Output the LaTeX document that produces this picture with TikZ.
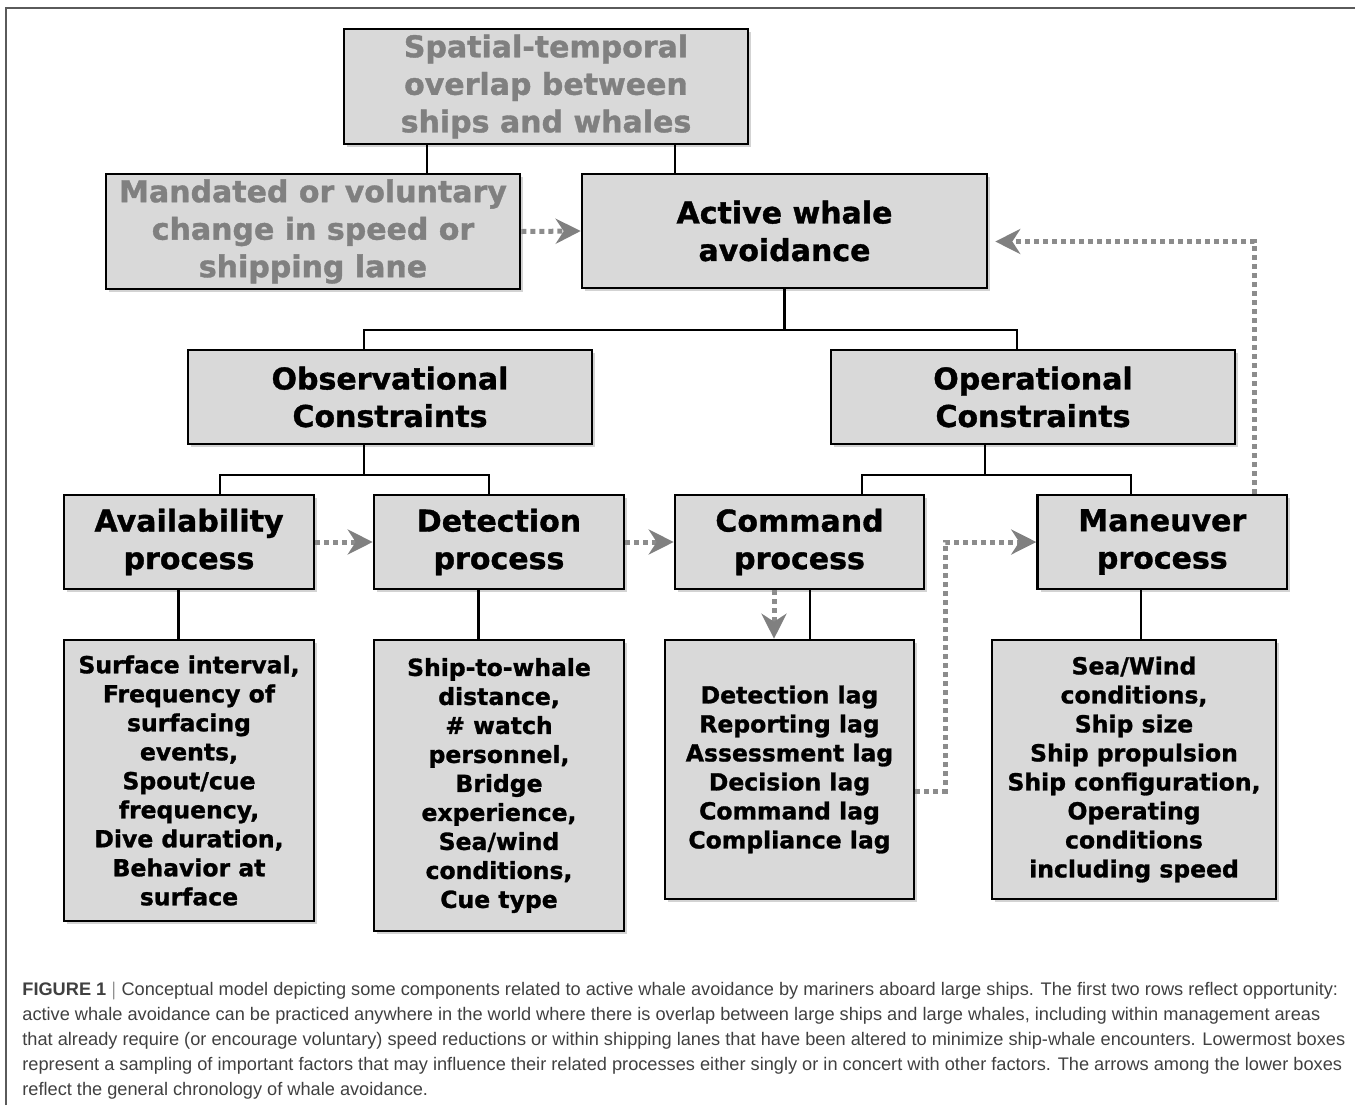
\documentclass[tikz,border=0pt]{standalone}
\usepackage{fontspec}
\usetikzlibrary{arrows.meta,shadows}
\newfontfamily\boxfont{DejaVu Sans}[BoldFeatures={FakeBold=1.2}]
\newfontfamily\capfont{Liberation Sans}
\definecolor{boxgrey}{HTML}{D9D9D9}
\definecolor{fadegrey}{HTML}{808080}
\definecolor{dotgrey}{HTML}{8C8C8C}
\definecolor{capgrey}{HTML}{404040}
\definecolor{framegrey}{HTML}{5A5A5A}
\tikzset{
  box/.style={draw=black, line width=1.3pt, fill=boxgrey, inner sep=0pt, align=center,
    drop shadow={shadow xshift=1.5pt, shadow yshift=-1.5pt, opacity=0.35}},
  bigbox/.style={box, font=\boxfont\bfseries\fontsize{15}{18.75}\selectfont},
  factbox/.style={box, font=\boxfont\bfseries\fontsize{11.75}{14.5}\selectfont},
  link/.style={line width=1.1pt},
  flow/.style={draw=dotgrey, line width=2.5pt, dash pattern=on 2.5pt off 2pt,
    -{Stealth[length=12.5pt, width=12.5pt, inset=4pt, color=fadegrey]}},
}
\begin{document}
\begin{tikzpicture}[x=0.5pt, y=-0.5pt]
  \useasboundingbox (0,0) rectangle (1355,1105);
  \draw[framegrey, line width=1pt] (6,1105) -- (6,8) -- (1355,8);

  \node[bigbox, text=fadegrey, minimum width=202pt, minimum height=57.5pt] (sp) at (546,86.5)
    {Spatial-temporal\\overlap between\\ships and whales};
  \node[bigbox, text=fadegrey, minimum width=207pt, minimum height=57.5pt] (mand) at (313,231.5)
    {Mandated or voluntary\\change in speed or\\shipping lane};
  \node[bigbox, minimum width=202.5pt, minimum height=57pt] (act) at (784.5,231)
    {Active whale\\avoidance};
  \node[bigbox, minimum width=202pt, minimum height=47pt] (obs) at (390,397)
    {Observational\\Constraints};
  \node[bigbox, minimum width=202pt, minimum height=47pt] (ops) at (1033,397)
    {Operational\\Constraints};
  \node[bigbox, minimum width=125pt, minimum height=47pt] (avail) at (189,542)
    {Availability\\process};
  \node[bigbox, minimum width=125pt, minimum height=47pt] (detp) at (499,542)
    {Detection\\process};
  \node[bigbox, minimum width=124.5pt, minimum height=47pt] (cmdp) at (799.5,542)
    {Command\\process};
  \node[bigbox, minimum width=124.75pt, minimum height=47pt] (manp) at (1162.3,542)
    {Maneuver\\process};

  \node[factbox, minimum width=125pt, minimum height=140.5pt] (availf) at (189,780.5)
    {Surface interval,\\Frequency of\\surfacing\\events,\\Spout/cue\\frequency,\\Dive duration,\\Behavior at\\surface};
  \node[factbox, minimum width=125pt, minimum height=145.5pt] (detf) at (499,785.5)
    {Ship-to-whale\\distance,\\\# watch\\personnel,\\Bridge\\experience,\\Sea/wind\\conditions,\\Cue type};
  \node[factbox, minimum width=124.5pt, minimum height=129.5pt] (cmdf) at (789.5,769.5)
    {Detection lag\\Reporting lag\\Assessment lag\\Decision lag\\Command lag\\Compliance lag};
  \node[factbox, minimum width=142pt, minimum height=129.5pt] (manf) at (1134,769.5)
    {Sea/Wind\\conditions,\\Ship size\\Ship propulsion\\Ship configuration,\\Operating\\conditions\\including speed};

  \coordinate (spl) at ([xshift=-59.5pt]sp.south);
  \coordinate (spr) at ([xshift=64.5pt]sp.south);
  \draw[link] (spl) -- (spl |- mand.north);
  \draw[link] (spr) -- (spr |- act.north);

  \coordinate (actj) at (784.5,330);
  \draw[link] (act.south) -- (actj);
  \draw[link] ([xshift=-13pt]obs.north) |- (actj);
  \draw[link] ([xshift=-8pt]ops.north) |- (actj);

  \coordinate (obsj) at (364,475);
  \draw[link] ([xshift=-13pt]obs.south) -- (obsj);
  \draw[link] ([xshift=15.5pt]avail.north) |- (obsj);
  \draw[link] ([xshift=-5pt]detp.north) |- (obsj);

  \coordinate (opsj) at (985,475);
  \draw[link] ([xshift=-24pt]ops.south) -- (opsj);
  \draw[link] ([xshift=31.25pt]cmdp.north) |- (opsj);
  \draw[link] ([xshift=-15.75pt]manp.north) |- (opsj);

  \coordinate (availb) at ([xshift=-5.25pt]avail.south);
  \coordinate (detb) at ([xshift=-10.25pt]detp.south);
  \coordinate (cmdb) at ([xshift=5.25pt]cmdp.south);
  \coordinate (manb) at ([xshift=-10.75pt]manp.south);
  \draw[link] (availb) -- (availb |- availf.north);
  \draw[link] (detb) -- (detb |- detf.north);
  \draw[link] (cmdb) -- (cmdb |- cmdf.north);
  \draw[link] (manb) -- (manb |- manf.north);

  \draw[flow] (mand.east) -- (act.west);
  \draw[flow] (avail.east) -- (detp.west);
  \draw[flow] (detp.east) -- (cmdp.west);
  \coordinate (cmdd) at ([xshift=-12.75pt]cmdp.south);
  \draw[flow] (cmdd) -- (cmdd |- cmdf.north);
  \draw[flow] ([yshift=-10.75pt]cmdf.east) -- ++(15pt,0pt) |- (manp.west);
  \draw[flow] ([xshift=46pt]manp.north) |- ([xshift=3.5pt,yshift=-5.25pt]act.east);

  \node[anchor=north west, inner sep=0pt, align=left, text=capgrey,
    font=\capfont\fontsize{9.1}{12.5}\selectfont] (cap) at (22,982)
    {{\bfseries FIGURE 1 $|$} Conceptual model depicting some components related to active whale avoidance by mariners aboard large ships. The first two rows reflect opportunity:\\
    active whale avoidance can be practiced anywhere in the world where there is overlap between large ships and large whales, including within management areas\\
    that already require (or encourage voluntary) speed reductions or within shipping lanes that have been altered to minimize ship-whale encounters. Lowermost boxes\\
    represent a sampling of important factors that may influence their related processes either singly or in concert with other factors. The arrows among the lower boxes\\
    reflect the general chronology of whale avoidance.};
\end{tikzpicture}
\end{document}
